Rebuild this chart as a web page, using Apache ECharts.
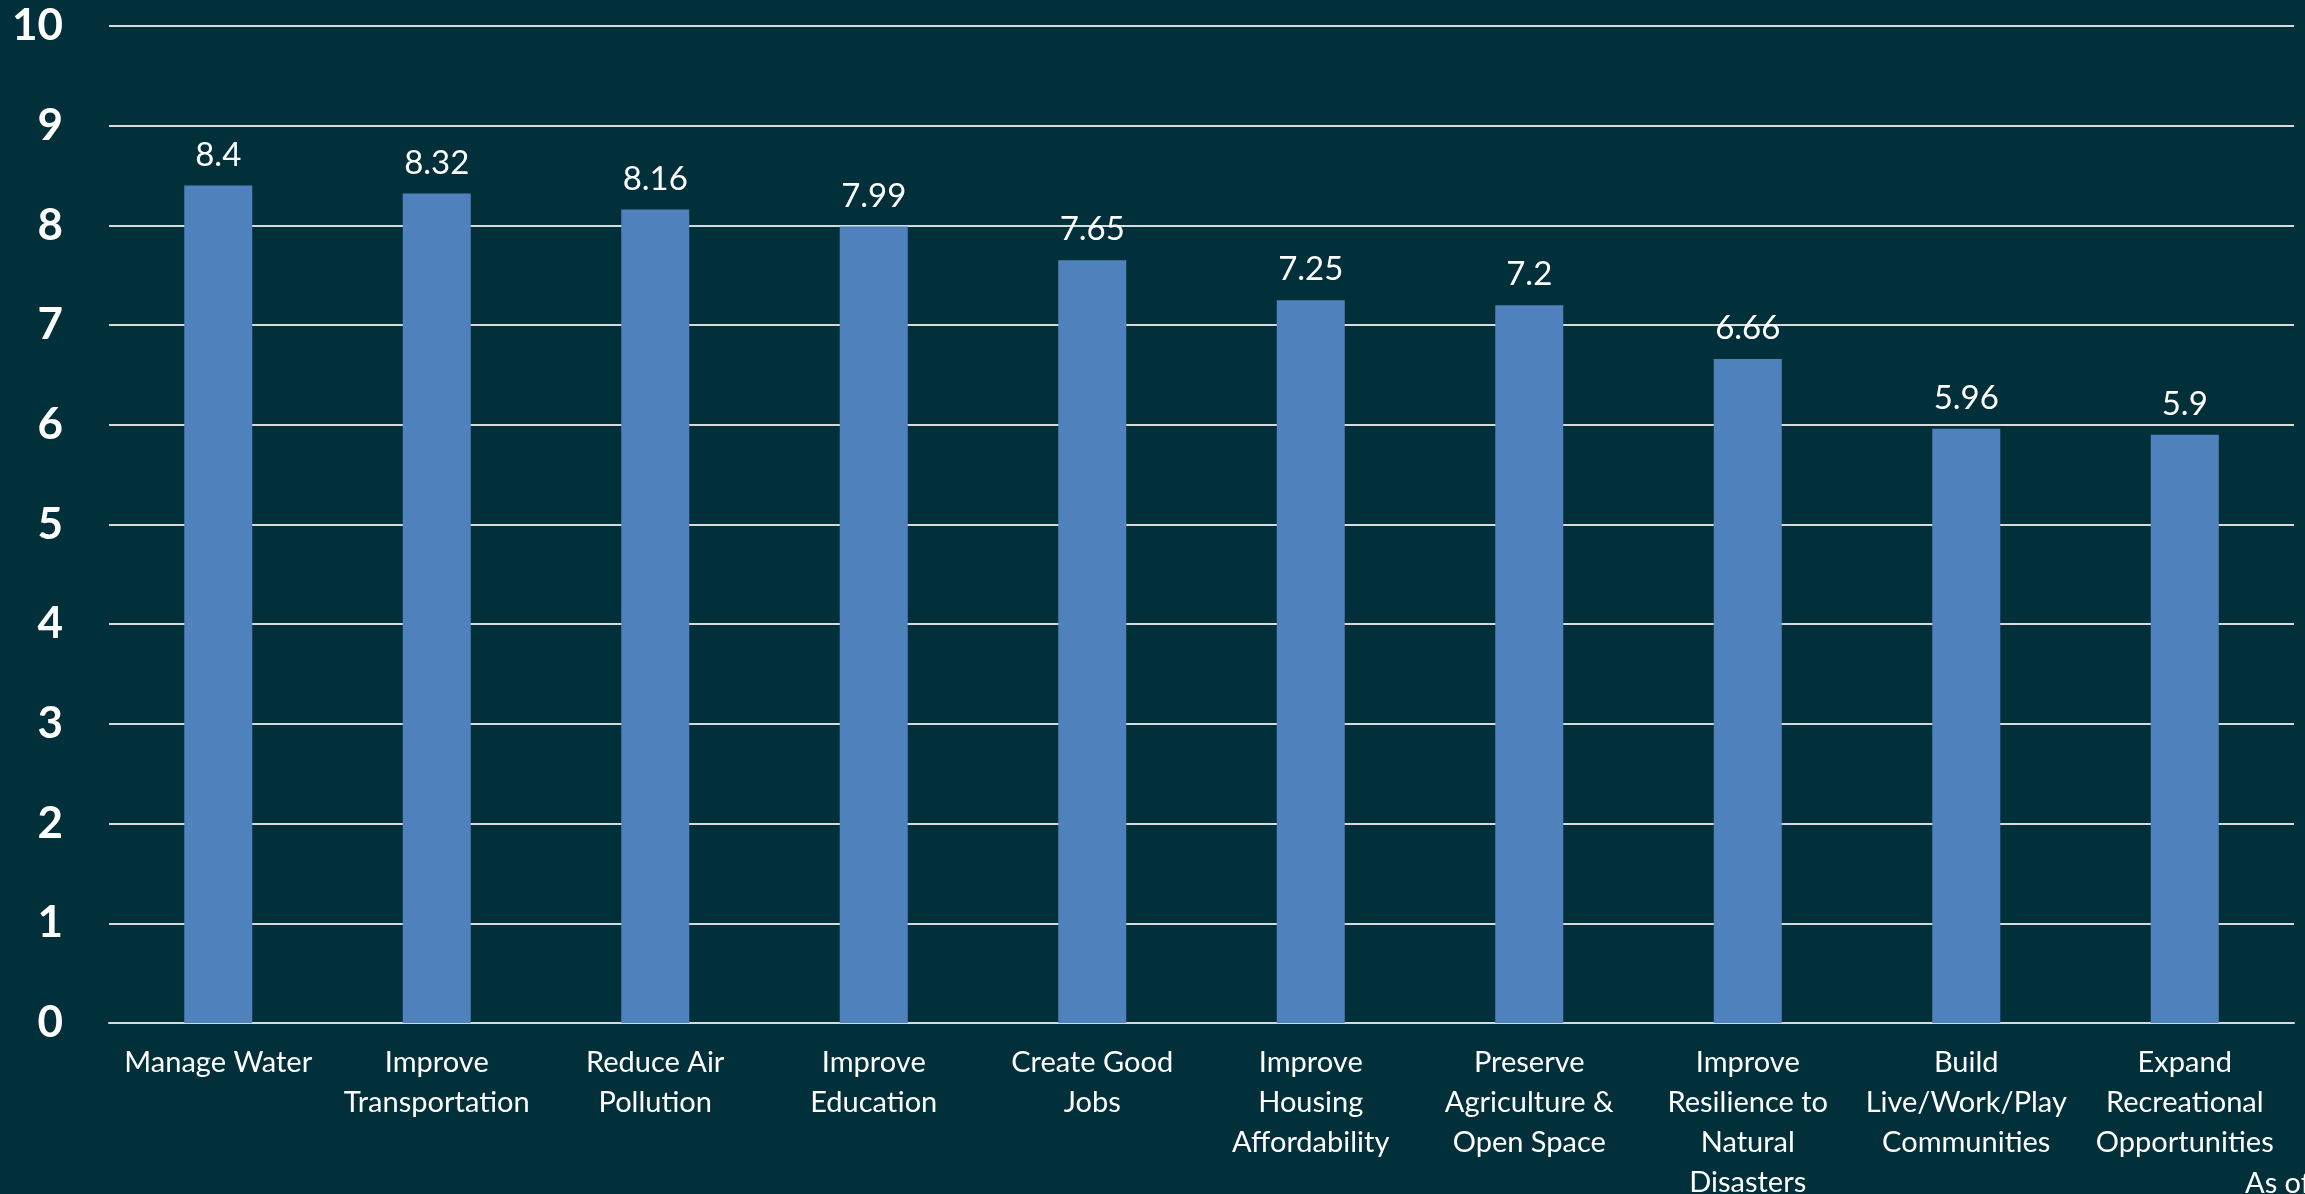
<!DOCTYPE html>
<html>
<head>
<meta charset="utf-8">
<script src="https://cdn.jsdelivr.net/npm/echarts@6/dist/echarts.min.js"></script>
<style>
html,body{margin:0;padding:0;background:#02303A;overflow:hidden;}
#chart{width:2305px;height:1194px;}
</style>
</head>
<body>
<div id="chart"></div>
<script>
const categories = [
  "Manage Water",
  "Improve\nTransportation",
  "Reduce Air\nPollution",
  "Improve\nEducation",
  "Create Good\nJobs",
  "Improve\nHousing\nAffordability",
  "Preserve\nAgriculture &\nOpen Space",
  "Improve\nResilience to\nNatural\nDisasters",
  "Build\nLive/Work/Play\nCommunities",
  "Expand\nRecreational\nOpportunities"
];
const values = [8.4, 8.32, 8.16, 7.99, 7.65, 7.25, 7.2, 6.66, 5.96, 5.9];
const footnote = "As of";

const FONT = "Lato, 'Open Sans', sans-serif";
const chart = echarts.init(document.getElementById('chart'));
chart.setOption({
  backgroundColor: '#02303A',
  animation: false,
  grid: {left: 109, right: 11, top: 26, bottom: 171, containLabel: false, outerBoundsMode: 'none'},
  xAxis: {
    type: 'category',
    data: categories,
    axisLine: {show: true, lineStyle: {color: '#D9D9D9', width: 2}},
    axisTick: {show: false},
    axisLabel: {
      color: '#FFFFFF', fontFamily: FONT, fontSize: 29, lineHeight: 40,
      margin: 20, interval: 0, align: 'center'
    }
  },
  yAxis: {
    type: 'value', min: 0, max: 10, interval: 1,
    axisLine: {show: false}, axisTick: {show: false},
    axisLabel: {color: '#FFFFFF', fontFamily: FONT, fontSize: 44, fontWeight: 'bold', margin: 46},
    splitLine: {lineStyle: {color: '#D9D9D9', width: 2}}
  },
  series: [{
    type: 'bar',
    data: values,
    barWidth: 68,
    itemStyle: {color: '#4F81BD'},
    label: {
      show: true, position: 'top', distance: 14,
      color: '#FFFFFF', fontFamily: FONT, fontSize: 33
    }
  }],
  graphic: [{
    type: 'text', left: 2245, top: 1169,
    style: {text: footnote, fill: '#FFFFFF', font: "29px " + FONT}
  }]
});
</script>
</body>
</html>
